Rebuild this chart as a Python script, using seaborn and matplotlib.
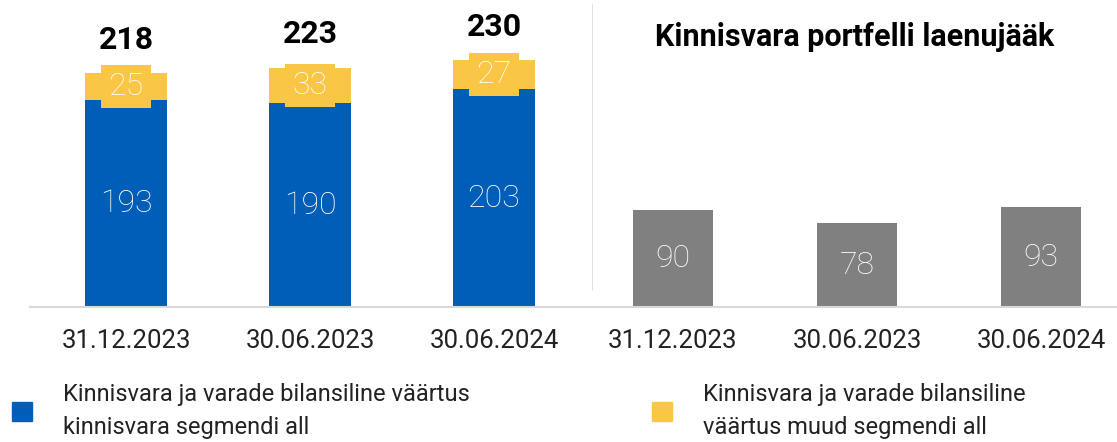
import pandas as pd
import seaborn as sns
import matplotlib.pyplot as plt
from matplotlib.patches import Patch

dates = ['31.12.2023', '30.06.2023', '30.06.2024']
kinnisvara_segment = [193, 190, 203]
muud_segmendid = [25, 33, 27]
laenujaak = [90, 78, 93]
panel_title = 'Kinnisvara portfelli laenujääk'
legend_labels = ['Kinnisvara ja varade bilansiline väärtus\nkinnisvara segmendi all',
                 'Kinnisvara ja varade bilansiline\nväärtus muud segmendi all']

BLUE = '#005EB8'
YELLOW = '#F9C646'
GREY = '#808080'
LINE = '#D9D9D9'

sns.set_style('white')
plt.rcParams['font.family'] = ['Roboto', 'DejaVu Sans']

left = pd.DataFrame({'date': dates, 'blue': kinnisvara_segment, 'yellow': muud_segmendid})
left['total'] = left['blue'] + left['yellow']
right = pd.DataFrame({'date': dates, 'loan': laenujaak})

W, H = 1117, 442
fig = plt.figure(figsize=(W / 100, H / 100), dpi=100)
ax1 = fig.add_axes([30 / W, 1 - 307 / H, 562 / W, 307 / H])
ax2 = fig.add_axes([592 / W, 1 - 307 / H, 525 / W, 307 / H])

# stacked bars: totals in yellow, blue on top of them
bar_kw = dict(saturation=1, linewidth=0, edgecolor='none')
sns.barplot(data=left, x='date', y='total', color=YELLOW, width=0.446, ax=ax1, **bar_kw)
sns.barplot(data=left, x='date', y='blue', color=BLUE, width=0.446, ax=ax1, **bar_kw)
sns.barplot(data=right, x='date', y='loan', color=GREY, width=0.43, ax=ax2, **bar_kw)

for i, row in left.iterrows():
    ax1.text(i, row['blue'] / 2, str(row['blue']), ha='center', va='center',
             color='white', fontsize=23, fontweight='light')
    ax1.text(i, row['blue'] + row['yellow'] / 2, str(row['yellow']), ha='center', va='center',
             color='white', fontsize=23, fontweight='light',
             bbox=dict(boxstyle='square,pad=0.22', fc=YELLOW, ec='none'))
    ax1.text(i, row['total'] + 31, str(row['total']), ha='center', va='center',
             color='black', fontsize=23, fontweight='bold')

for i, row in right.iterrows():
    ax2.text(i, row['loan'] / 2, str(row['loan']), ha='center', va='center',
             color='white', fontsize=23, fontweight='light')

ax2.text(0.5, 0.88, panel_title, transform=ax2.transAxes, ha='center', va='center',
         fontsize=22, fontweight='bold', color='black')

ax1.set_xlim(-0.522, 2.533)
ax2.set_xlim(-0.44, 2.413)
for ax in (ax1, ax2):
    ax.set_ylim(0, 286)
    ax.set_xlabel('')
    ax.set_ylabel('')
    ax.set_yticks([])
    ax.tick_params(axis='x', length=0, pad=16, labelsize=18.5, labelcolor='#222222')
    for s in ('top', 'left', 'right'):
        ax.spines[s].set_visible(False)
    ax.spines['bottom'].set_color(LINE)
    ax.spines['bottom'].set_linewidth(1.5)
    ax.patch.set_alpha(0)

# separator between the two panels
ax2.axvline(-0.44, ymin=17 / 307, ymax=302 / 307, color=LINE, lw=1.2)

for handle_color, label, x in [(BLUE, legend_labels[0], 12), (YELLOW, legend_labels[1], 652)]:
    leg = fig.legend(handles=[Patch(color=handle_color, label=label)], loc='center left',
                     bbox_to_anchor=(x / W, 1 - 411 / H), frameon=False, fontsize=17,
                     handlelength=0.85, handleheight=0.85, handletextpad=1.3,
                     borderpad=0, borderaxespad=0, labelspacing=0)
    for t in leg.get_texts():
        t.set_linespacing(1.55)
        t.set_color('#222222')

plt.savefig('out.png', dpi=100)
